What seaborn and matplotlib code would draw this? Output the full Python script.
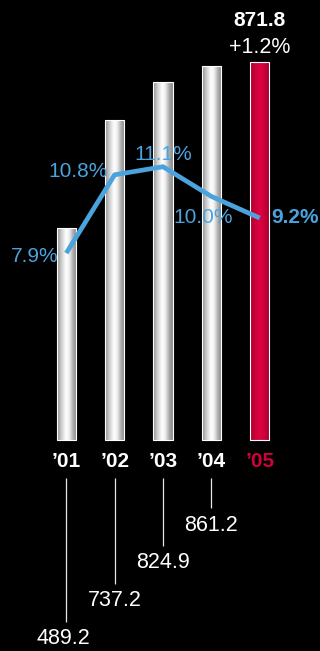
import numpy as np
import pandas as pd
import matplotlib
matplotlib.use("Agg")
import matplotlib.pyplot as plt
from matplotlib.colors import LinearSegmentedColormap
from matplotlib.transforms import blended_transform_factory
import seaborn as sns

# Net sales (bars) and operating margin (line), fiscal years 2001-2005
years = ["’01", "’02", "’03", "’04", "’05"]
sales = [489.2, 737.2, 824.9, 861.2, 871.8]
margin = [7.9, 10.8, 11.1, 10.0, 9.2]
growth_label = "+1.2%"

sns.set_theme(style="white")
plt.rcParams["font.family"] = ["Liberation Sans", "DejaVu Sans"]

W, H = 320, 651
BLUE = "#4AA3DC"
RED = "#D0003C"

fig = plt.figure(figsize=(W / 100, H / 100), dpi=100, facecolor="black")
ax = fig.add_axes([0, 0, 1, 1])
ax.set_facecolor("black")

df = pd.DataFrame({"year": years, "sales": sales})
palette = {y: ("#cccccc" if i < len(years) - 1 else RED) for i, y in enumerate(years)}
sns.barplot(data=df, x="year", y="sales", hue="year", palette=palette,
            legend=False, width=0.4, edgecolor="white", linewidth=0.8,
            saturation=1, ax=ax, zorder=2)

# Cylindrical shading inside each bar
silver = LinearSegmentedColormap.from_list(
    "silver", [(0, "#8a8a8a"), (0.18, "#c4c4c4"), (0.45, "#ffffff"),
               (0.6, "#f2f2f2"), (0.85, "#a2a2a2"), (1, "#8c8c8c")])
crimson = LinearSegmentedColormap.from_list(
    "crimson", [(0, "#a8002f"), (0.3, "#d0003c"), (0.5, "#dc0542"),
                (0.75, "#cc003a"), (1, "#9e002c")])
grad = np.linspace(0, 1, 64).reshape(1, -1)
for i, bar in enumerate(ax.patches):
    x0, y0 = bar.get_x(), bar.get_y()
    w, h = bar.get_width(), bar.get_height()
    cmap = crimson if i == len(ax.patches) - 1 else silver
    im = ax.imshow(grad, cmap=cmap, aspect="auto", extent=(x0, x0 + w, y0, y0 + h),
                   zorder=1.5, interpolation="bicubic")
    im.set_clip_path(bar)
    bar.set_facecolor("none")

ax.set_xlim(-1.371, 5.247)
ax.set_ylim(-484.4, 1013.6)
ax.set_axis_off()

# Margin line on a secondary scale
ax2 = ax.twinx()
ax2.set_axis_off()
sns.lineplot(x=np.arange(len(years)), y=margin, color=BLUE, linewidth=3.4,
             solid_capstyle="butt", ax=ax2, zorder=3)
ax2.set_xlim(ax.get_xlim())
ax2.set_ylim(-6.837, 17.274)

fs = 15
label_offsets = [(-8, -8.6, "right", "normal"), (-7, -2, "right", "normal"),
                 (0, 6.7, "center", "normal"), (-8, -26.6, "center", "normal"),
                 (12, -5, "left", "bold")]
for i, (m, (dx, dy, ha, wt)) in enumerate(zip(margin, label_offsets)):
    ax2.annotate(f"{m:.1f}%", xy=(i, m), xytext=(dx, dy), textcoords="offset pixels",
                 ha=ha, va="baseline", color=BLUE, fontsize=fs, fontweight=wt, zorder=4)

# Latest value and growth above the final bar
last = len(years) - 1
ax.annotate(f"{sales[last]:.1f}", xy=(last, sales[last]), xytext=(0, 36),
            textcoords="offset pixels", ha="center", va="baseline",
            color="white", fontsize=fs, fontweight="bold")
ax.annotate(growth_label, xy=(last, sales[last]), xytext=(0, 9),
            textcoords="offset pixels", ha="center", va="baseline",
            color="white", fontsize=15.5)

# Year labels and value call-outs under the baseline
tr = blended_transform_factory(ax.transData, fig.transFigure)
fy = lambda px: 1 - px / H
for i, y in enumerate(years):
    ax.text(i, fy(466.7), y, transform=tr, ha="center", va="baseline",
            color=RED if i == last else "white", fontsize=fs, fontweight="bold")

line_ends = [622, 584, 546, 508]
text_base = [644, 606, 568, 530.7]
for i in range(len(years) - 1):
    ax.plot([i, i], [fy(478), fy(line_ends[i])], transform=tr, color="#e6e6e6",
            linewidth=0.9, solid_capstyle="butt")
    ax.text(i - (0.06 if i == 0 else 0), fy(text_base[i]), f"{sales[i]:.1f}",
            transform=tr, ha="center", va="baseline", color="white", fontsize=15.5)

fig.savefig("out.png", dpi=100, facecolor="black")
